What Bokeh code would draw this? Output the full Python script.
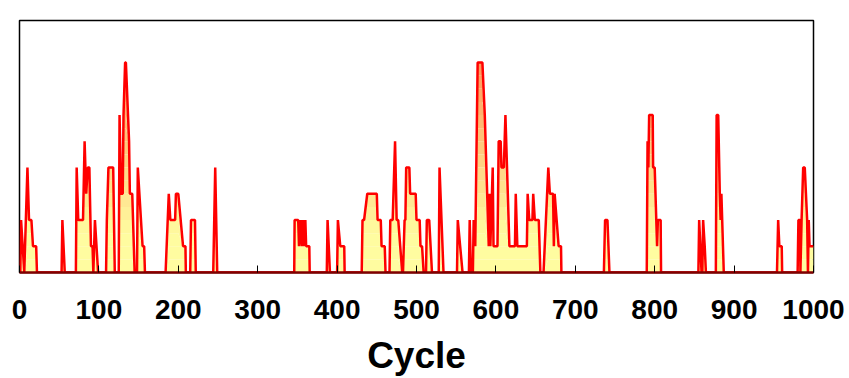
import numpy as np
from bokeh.plotting import figure
from bokeh.models import Range1d, FixedTicker
from bokeh.embed import file_html
from bokeh.resources import INLINE

cycle = [0, 1, 2, 6, 10, 12, 15, 17, 21, 22,
         53, 54, 57,
         71, 72, 74, 80, 82, 84, 86, 88, 90, 92, 93, 95, 99,
         109, 110, 112, 118, 120,
         125, 126, 128, 130, 131, 133, 134, 138, 139, 142, 145,
         148, 149, 155, 157, 158,
         184, 188, 190, 196, 197, 200, 206, 209, 209.5,
         215, 216, 221, 222,
         244, 246.5, 249,
         346, 346.5, 351, 352, 354, 355.5, 357, 358.5, 360, 361, 365, 365.5,
         387, 388, 391,
         400, 401, 404, 409, 409.5,
         431, 432, 434, 438, 450, 451, 455, 456, 460, 461,
         466, 467, 470, 473, 475, 477, 482,
         483, 485, 486, 487, 491, 492, 499, 500, 504, 505, 507, 509,
         512, 513, 516, 519.5,
         528, 529, 534,
         551, 552, 558,
         566, 567, 568.5, 571, 572, 574, 577, 583, 586, 591, 592, 593, 596, 597,
         602, 603.5, 606, 607, 610, 612, 617, 624, 625, 627, 639, 640, 642, 646,
         647, 649, 654, 656, 660, 666, 668, 672, 673, 674, 679, 682, 682.5,
         736, 737.5, 740.5, 743,
         790, 791, 792, 793, 797.5, 798, 800, 803, 804, 807.5, 808,
         855, 856, 859, 860, 861, 863, 864.5,
         877, 878, 880, 882, 883, 884, 887,
         954, 955.5, 957, 960, 960.5,
         980, 981, 983, 983.5, 985, 987, 989, 992, 993, 994, 995, 1000]

count = [0, 0, 2, 0, 4, 2, 2, 1, 1, 0,
         0, 2, 0,
         0, 4, 2, 2, 5, 3, 4, 4, 1, 1, 0, 2, 0,
         0, 2, 4, 4, 0,
         0, 6, 3, 3, 6, 8, 8, 5, 3, 3, 0,
         0, 4, 1, 1, 0,
         0, 3, 2, 2, 3, 3, 1, 1, 0,
         0, 2, 2, 0,
         0, 4, 0,
         0, 2, 2, 1, 2, 1, 2, 1, 2, 1, 1, 0,
         0, 2, 0,
         0, 2, 1, 1, 0,
         0, 2, 2, 3, 3, 2, 2, 1, 1, 0,
         0, 2, 2, 5, 2, 2, 0,
         0, 2, 2, 4, 4, 3, 3, 2, 2, 1, 1, 0,
         0, 2, 2, 0,
         0, 4, 0,
         0, 2, 0,
         0, 2, 0, 0, 2, 1, 8, 8, 6, 1, 3, 1, 4, 1,
         1, 5, 5, 4, 4, 6, 1, 1, 3, 1, 1, 3, 2, 2,
         3, 2, 2, 0, 0, 4, 3, 3, 1, 3, 1, 1, 0,
         0, 2, 2, 0,
         0, 5, 4, 6, 6, 4, 4, 1, 2, 2, 0,
         0, 2, 0, 0, 2, 1, 0,
         0, 6, 6, 3, 2, 3, 0,
         0, 2, 1, 1, 0,
         0, 2, 2, 0, 2, 4, 4, 2, 0, 2, 1, 1]

x_ticks = [0, 100, 200, 300, 400, 500, 600, 700, 800, 900, 1000]
x_title = "Cycle"

p = figure(width=849, height=378, output_backend="svg", toolbar_location=None,
           x_range=Range1d(0, 1000), y_range=Range1d(0, 9.6),
           y_axis_location=None,
           min_border_left=19, min_border_right=36,
           min_border_top=20, min_border_bottom=105)

p.xgrid.visible = False
p.ygrid.visible = False
p.outline_line_color = "black"
p.outline_line_width = 1.5
p.background_fill_color = "white"
p.border_fill_color = "white"

y = np.array(count, dtype=float)
levels = np.arange(0, 8.5, 0.5)
for lo, hi in zip(levels[:-1], levels[1:]):
    mid = (lo + hi) / 2
    t = min(max((mid - 1.5) / 6.5, 0.0), 1.0)
    r = 255
    g = int(round(252 - t * (252 - 150)))
    b = int(round(160 - t * (160 - 90)))
    col = "#%02x%02x%02x" % (r, g, b)
    p.varea(x=cycle, y1=np.minimum(y, lo), y2=np.minimum(y, hi),
            fill_color=col, fill_alpha=1.0)

p.line(cycle, count, line_color="red", line_width=2.5)

ax = p.xaxis[0]
ax.ticker = FixedTicker(ticks=x_ticks)
ax.major_tick_in = 7
ax.major_tick_out = 0
ax.minor_tick_line_color = None
ax.major_tick_line_color = "black"
ax.axis_line_color = "#800000"
ax.axis_line_width = 2.5
ax.major_label_text_font = "Liberation Sans"
ax.major_label_text_font_style = "bold"
ax.major_label_text_font_size = "28px"
ax.major_label_text_color = "black"
ax.major_label_standoff = 27
ax.axis_label = x_title
ax.axis_label_text_font = "Liberation Sans"
ax.axis_label_text_font_style = "bold"
ax.axis_label_text_font_size = "37px"
ax.axis_label_text_color = "black"
ax.axis_label_standoff = 13

open("out.html", "w").write(file_html(p, INLINE))
